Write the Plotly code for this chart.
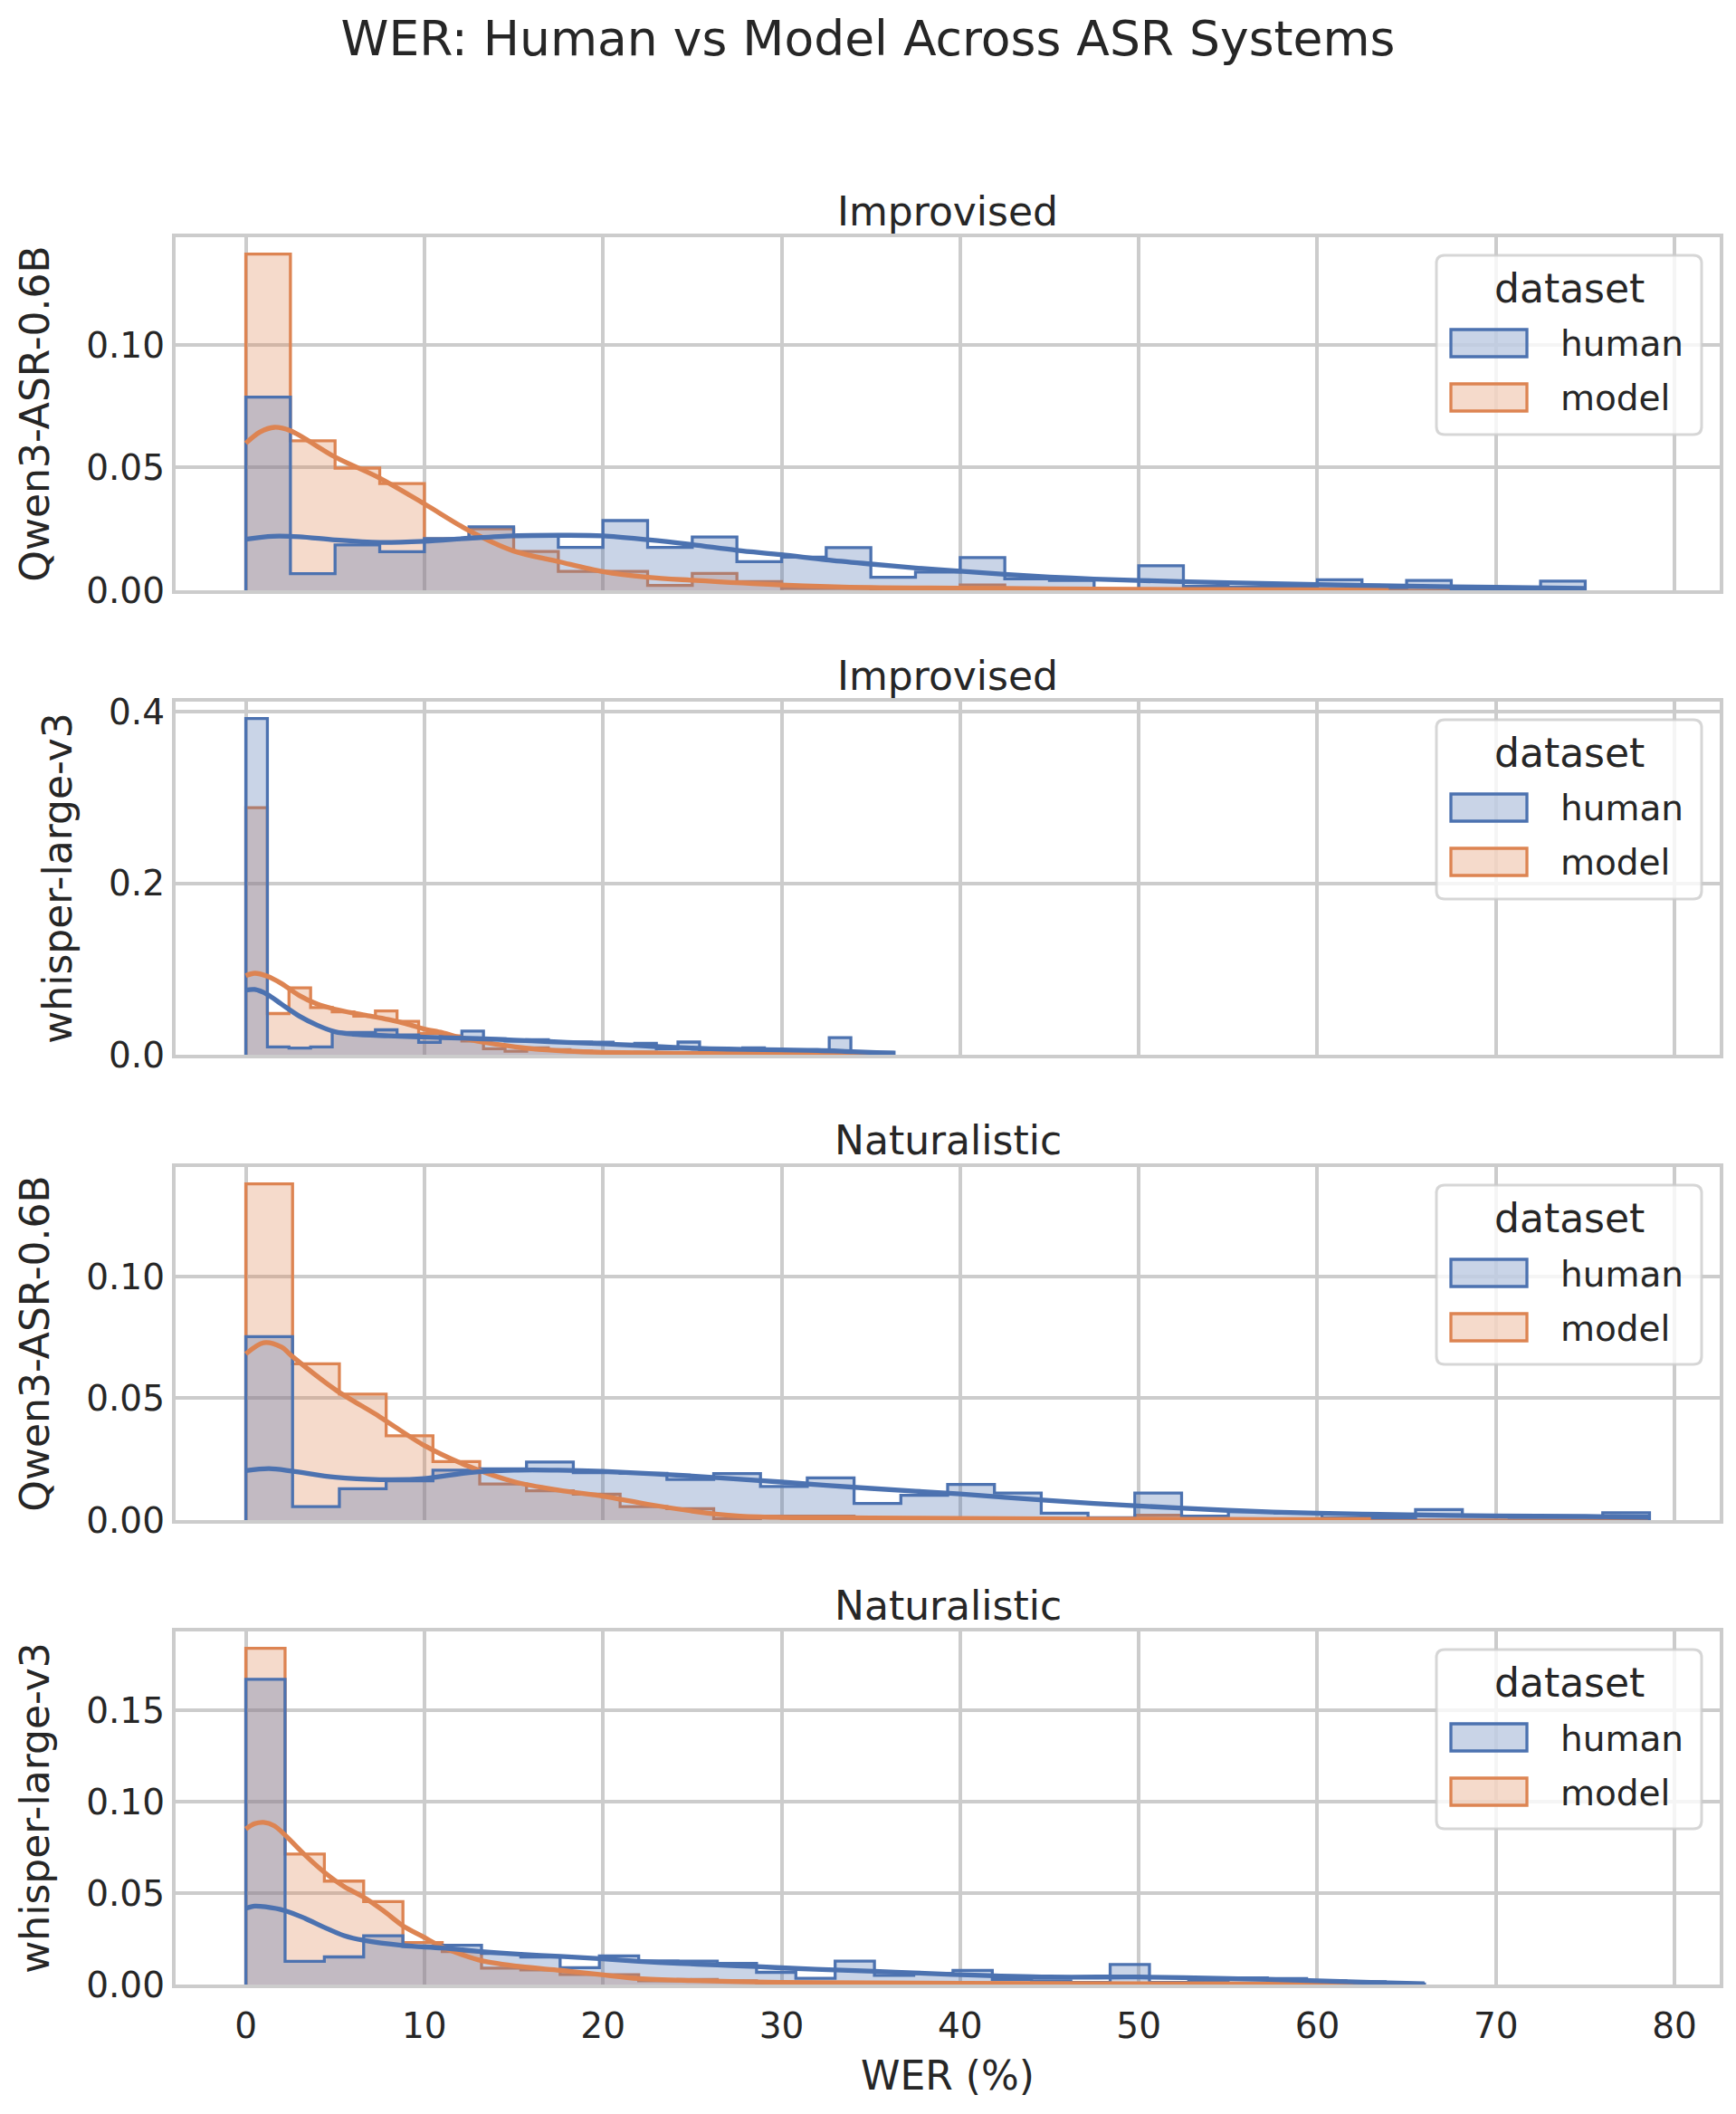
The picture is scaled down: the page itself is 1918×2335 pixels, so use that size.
import numpy as np
import plotly.graph_objects as go

# ---------------- data ----------------
suptitle = "WER: Human vs Model Across ASR Systems"
panel_titles = ["Improvised", "Improvised", "Naturalistic", "Naturalistic"]
panel_models = ["Qwen3-ASR-0.6B", "whisper-large-v3", "Qwen3-ASR-0.6B", "whisper-large-v3"]
hue_levels = ["human", "model"]
legend_title = "dataset"
x_label = "WER (%)"
n_bins = 30
wer_max = [75.0, 36.3, 78.6, 66.0]   # upper edge of the common bins in each panel

x_ticks = [0, 10, 20, 30, 40, 50, 60, 70, 80]
y_ticks = [[0, 0.05, 0.10], [0, 0.2, 0.4], [0, 0.05, 0.10], [0, 0.05, 0.10, 0.15]]
y_ticktext = [["0.00", "0.05", "0.10"], ["0.0", "0.2", "0.4"],
              ["0.00", "0.05", "0.10"], ["0.00", "0.05", "0.10", "0.15"]]

# histogram densities (30 bins per panel)
p1_human = [0.0787, 0.0068, 0.0185, 0.0157, 0.0211, 0.0259, 0.0220, 0.0175, 0.0284, 0.0175,
            0.0217, 0.0117, 0.0135, 0.0174, 0.0053, 0.0074, 0.0133, 0.0047, 0.0040, 0.0005,
            0.0100, 0.0016, 0.0012, 0.0012, 0.0043, 0.0012, 0.0040, 0.0004, 0.0004, 0.0037]
p1_model = [0.1370, 0.0609, 0.0498, 0.0435, 0.0210, 0.0250, 0.0158, 0.0077, 0.0077, 0.0020,
            0.0069, 0.0035, 0.0008, 0.0008, 0.0005, 0.0005, 0.0022, 0.0005, 0.0003, 0.0003,
            0.0005, 0.0003, 0.0, 0.0003, 0.0, 0.0003, 0.0, 0.0, 0.0, 0.0]
p2_human = [0.392, 0.0092, 0.0077, 0.0092, 0.026, 0.026, 0.029, 0.023, 0.0145, 0.021,
            0.0275, 0.0187, 0.016, 0.0176, 0.015, 0.015, 0.0145, 0.0123, 0.0134, 0.007,
            0.0148, 0.006, 0.0056, 0.008, 0.0056, 0.0056, 0.0056, 0.0200, 0.0035, 0.003]
p2_model = [0.288, 0.048, 0.078, 0.055, 0.050, 0.045, 0.051, 0.039, 0.025, 0.022,
            0.016, 0.007, 0.004, 0.008, 0.006, 0.004, 0.003, 0.002, 0.003, 0.002,
            0.002, 0.001, 0.001, 0.002, 0.001, 0.001, 0.0005, 0.001, 0.0005, 0.0]
p3_human = [0.0753, 0.0055, 0.0129, 0.0161, 0.0205, 0.0210, 0.0238, 0.0195, 0.0192, 0.0167,
            0.0191, 0.0138, 0.0173, 0.0068, 0.0102, 0.0146, 0.0111, 0.0028, 0.0010, 0.0111,
            0.0016, 0.0035, 0.0028, 0.0010, 0.0010, 0.0043, 0.0016, 0.0012, 0.0012, 0.0030]
p3_model = [0.138, 0.0641, 0.0517, 0.0346, 0.0240, 0.0148, 0.0120, 0.0106, 0.0055, 0.0047,
            0.0006, 0.0016, 0.0016, 0.0005, 0.0005, 0.0003, 0.0005, 0.0003, 0.0003, 0.0020,
            0.0003, 0.0, 0.0, 0.0, 0.0003, 0.0, 0.0, 0.0, 0.0, 0.0]
p4_human = [0.167, 0.0127, 0.0151, 0.0267, 0.0209, 0.0215, 0.0170, 0.0150, 0.0092, 0.0157,
            0.0129, 0.0128, 0.0116, 0.0067, 0.0034, 0.0128, 0.0050, 0.0060, 0.0077, 0.0028,
            0.0020, 0.0012, 0.0110, 0.0012, 0.0016, 0.0036, 0.0033, 0.0020, 0.0015, 0.0003]
p4_model = [0.184, 0.0714, 0.0566, 0.0454, 0.0230, 0.0180, 0.0090, 0.0080, 0.0055, 0.0054,
            0.0020, 0.0028, 0.0020, 0.0010, 0.0010, 0.0008, 0.0005, 0.0005, 0.0005, 0.0003,
            0.0003, 0.0003, 0.0003, 0.0, 0.0003, 0.0, 0.0003, 0.0, 0.0, 0.0]

# KDE curves
p1_human_kde_x = [0, 1.5, 3, 5, 7.5, 10, 12.5, 15, 17.5, 20, 22.5, 25, 27.5, 30, 32.5, 35, 37.5,
                  40, 42.5, 45, 47.5, 50, 55, 60, 65, 70, 75]
p1_human_kde_y = [0.0208, 0.0220, 0.0218, 0.0205, 0.0195, 0.0200, 0.0212, 0.0222, 0.0224, 0.0222,
                  0.0206, 0.0186, 0.0163, 0.0145, 0.0124, 0.0107, 0.0091, 0.0078, 0.0065, 0.0054,
                  0.0046, 0.0040, 0.0031, 0.0023, 0.0017, 0.0012, 0.0008]
p1_model_kde_x = [0, 0.8, 1.6, 2.5, 5, 7.5, 10, 12.5, 15, 17.5, 20, 22.5, 25, 30, 35, 40, 45, 50,
                  55, 60, 64]
p1_model_kde_y = [0.0599, 0.0645, 0.0664, 0.0650, 0.0543, 0.0457, 0.0352, 0.0243, 0.0160, 0.0117,
                  0.0076, 0.0053, 0.0041, 0.0022, 0.0011, 0.0009, 0.0006, 0.0004, 0.0003, 0.0002,
                  0.0001]
p2_human_kde_x = [0, 0.5, 1.2, 2, 3, 4, 5, 6, 8, 10, 12, 14, 16, 18, 20, 22, 24, 26, 28, 30, 32,
                  34, 36.3]
p2_human_kde_y = [0.0754, 0.0760, 0.0704, 0.0590, 0.0450, 0.0345, 0.0268, 0.0240, 0.0220, 0.0204,
                  0.0194, 0.0180, 0.0162, 0.0144, 0.0127, 0.0106, 0.0085, 0.0070, 0.0063, 0.0056,
                  0.0050, 0.0035, 0.0018]
p2_model_kde_x = [0, 0.5, 1.2, 2, 3, 4, 5, 6, 7, 8, 9, 10, 11, 12, 13, 14, 16, 18, 20, 24, 28,
                  32, 35]
p2_model_kde_y = [0.0922, 0.0950, 0.0915, 0.0830, 0.0690, 0.0590, 0.0530, 0.0486, 0.0450, 0.0410,
                  0.0360, 0.0300, 0.0257, 0.0200, 0.0158, 0.0123, 0.0070, 0.0042, 0.0028, 0.0018,
                  0.0014, 0.0010, 0.0007]
p3_human_kde_x = [0, 1.3, 2.6, 5, 7.5, 10, 12.5, 15, 17.5, 20, 25, 30, 35, 40, 45, 50, 55, 60,
                  65, 70, 75, 78.6]
p3_human_kde_y = [0.0203, 0.0211, 0.0201, 0.0176, 0.0166, 0.0170, 0.0195, 0.0205, 0.0205, 0.0200,
                  0.0181, 0.0156, 0.0130, 0.0107, 0.0080, 0.0058, 0.0040, 0.0028, 0.0022, 0.0017,
                  0.0015, 0.0012]
p3_model_kde_x = [0, 1, 2, 2.6, 5, 7.5, 10, 12.5, 15, 17.5, 20, 22.5, 25, 27.5, 30, 35, 40, 45,
                  50, 55, 60, 63]
p3_model_kde_y = [0.0682, 0.0728, 0.0710, 0.0672, 0.0536, 0.0424, 0.0306, 0.0220, 0.0158, 0.0123,
                  0.0098, 0.0065, 0.0037, 0.0017, 0.0011, 0.0009, 0.0007, 0.0005, 0.0004, 0.0003,
                  0.0002, 0.0002]
p4_human_kde_x = [0, 0.5, 1.1, 2.2, 3.3, 4.4, 5.5, 6.6, 8.8, 11, 13.2, 15.4, 17.6, 19.8, 22,
                  24.2, 26.4, 28.6, 30.8, 33, 35.2, 37.4, 40, 45, 50, 55, 60, 63, 66]
p4_human_kde_y = [0.0417, 0.0429, 0.0425, 0.0404, 0.0363, 0.0313, 0.0268, 0.0242, 0.0214, 0.0200,
                  0.0180, 0.0165, 0.0154, 0.0142, 0.0127, 0.0116, 0.0107, 0.0098, 0.0088, 0.0080,
                  0.0072, 0.0064, 0.0054, 0.0041, 0.0041, 0.0033, 0.0020, 0.0012, 0.0004]
p4_model_kde_x = [0, 0.5, 1, 1.6, 2.2, 3.3, 4.4, 5.5, 6.6, 7.7, 8.8, 9.9, 11, 12.1, 13.2, 15.4,
                  17.6, 19.8, 22, 25, 30, 35, 40, 50, 62]
p4_model_kde_y = [0.0851, 0.0880, 0.0887, 0.0868, 0.0818, 0.0710, 0.0614, 0.0536, 0.0478, 0.0404,
                  0.0321, 0.0263, 0.0205, 0.0164, 0.0131, 0.0098, 0.0078, 0.0055, 0.0033, 0.0022,
                  0.0012, 0.0009, 0.0007, 0.0004, 0.0002]

hist = [
    {"human": p1_human, "model": p1_model},
    {"human": p2_human, "model": p2_model},
    {"human": p3_human, "model": p3_model},
    {"human": p4_human, "model": p4_model},
]
kde = [
    {"human": (p1_human_kde_x, p1_human_kde_y), "model": (p1_model_kde_x, p1_model_kde_y)},
    {"human": (p2_human_kde_x, p2_human_kde_y), "model": (p2_model_kde_x, p2_model_kde_y)},
    {"human": (p3_human_kde_x, p3_human_kde_y), "model": (p3_model_kde_x, p3_model_kde_y)},
    {"human": (p4_human_kde_x, p4_human_kde_y), "model": (p4_model_kde_x, p4_model_kde_y)},
]

# ---------------- style / layout ----------------
W, H = 1918, 2335
plot_left, plot_right = 194, 1900
plot_top, plot_bottom = 262, 2192
panel_tops = [262, 775, 1289, 1802]
panel_h = 390
plot_w = plot_right - plot_left
plot_h = plot_bottom - plot_top

line_col = {"human": "#4c72b0", "model": "#dd8452"}
fill_col = {"human": "rgba(76,114,176,0.3)", "model": "rgba(221,132,82,0.3)"}
text_col = "#262626"
grid_col = "#cccccc"
FONT = "DejaVu Sans"
x_range = [-3.93, 82.53]


def px_x(px):
    return (px - plot_left) / plot_w


def px_y(py):
    return (plot_bottom - py) / plot_h


fig = go.Figure()

for i in range(4):
    xa = "x" if i == 0 else f"x{i+1}"
    ya = "y" if i == 0 else f"y{i+1}"
    edges = np.linspace(0, wer_max[i], n_bins + 1)
    for hue in ["model", "human"]:
        d = np.asarray(hist[i][hue], dtype=float)
        xs = np.concatenate([[0.0], edges[:-1], [edges[-1], edges[-1]]])
        ys = np.concatenate([[0.0], d, [d[-1], 0.0]])
        fig.add_trace(go.Scatter(
            x=xs, y=ys, mode="lines", xaxis=xa, yaxis=ya,
            line=dict(shape="hv", color=line_col[hue], width=3.3),
            fill="tozeroy", fillcolor=fill_col[hue],
            showlegend=False, hoverinfo="skip", name=hue))
    for hue in ["model", "human"]:
        kx, ky = kde[i][hue]
        fig.add_trace(go.Scatter(
            x=kx, y=ky, mode="lines", xaxis=xa, yaxis=ya,
            line=dict(shape="spline", smoothing=0.9, color=line_col[hue], width=5.3),
            showlegend=False, hoverinfo="skip", name=hue + " kde"))

layout = dict(
    width=W, height=H,
    margin=dict(l=plot_left, r=W - plot_right, t=plot_top, b=H - plot_bottom, autoexpand=False),
    paper_bgcolor="white", plot_bgcolor="white",
    font=dict(family=FONT, color=text_col, size=39),
    showlegend=False,
    title=dict(text=suptitle, x=0.5, xref="container", xanchor="center",
               y=1 - 42 / H, yref="container", yanchor="middle",
               font=dict(size=53.5, family=FONT, color=text_col)),
)

annotations = []
shapes = []

for i in range(4):
    top = panel_tops[i]
    dom = [(plot_bottom - top - panel_h) / plot_h, (plot_bottom - top) / plot_h]
    xkey = "xaxis" if i == 0 else f"xaxis{i+1}"
    ykey = "yaxis" if i == 0 else f"yaxis{i+1}"
    ya = "y" if i == 0 else f"y{i+1}"
    xa = "x" if i == 0 else f"x{i+1}"
    xdict = dict(domain=[0, 1], anchor=ya, range=x_range, tickvals=x_ticks,
                 showticklabels=(i == 3), showgrid=True, gridcolor=grid_col, gridwidth=3.5,
                 showline=True, mirror=True, linecolor=grid_col, linewidth=4.4,
                 zeroline=False, ticks="", tickfont=dict(size=39, family=FONT, color=text_col),
                 ticklabelstandoff=8)
    if i > 0:
        xdict["matches"] = "x"
    if i == 3:
        xdict["title"] = dict(text=x_label, font=dict(size=44, family=FONT, color=text_col),
                              standoff=19)
    layout[xkey] = xdict

    ymax = 1.05 * max(max(hist[i]["human"]), max(hist[i]["model"]))
    layout[ykey] = dict(domain=dom, anchor=xa, range=[0, ymax],
                        tickvals=y_ticks[i], ticktext=y_ticktext[i],
                        showgrid=True, gridcolor=grid_col, gridwidth=3.5,
                        showline=True, mirror=True, linecolor=grid_col, linewidth=4.4,
                        zeroline=False, ticks="",
                        tickfont=dict(size=39, family=FONT, color=text_col),
                        ticklabelstandoff=0,
                        title=dict(text=panel_models[i],
                                   font=dict(size=44, family=FONT, color=text_col),
                                   standoff=28))

    # panel title
    annotations.append(dict(text=panel_titles[i], x=0.5, xref="paper", xanchor="center",
                            y=dom[1], yref="paper", yanchor="middle", yshift=29,
                            showarrow=False, font=dict(size=44, family=FONT, color=text_col)))

    # ---- legend (drawn as shapes + text) ----
    bl, br = 1587, 1880
    bt, bb = top + 20, top + 218
    r = 9
    pts = lambda x, y: f"{px_x(x):.6f},{px_y(y):.6f}"
    path = (f"M {pts(bl + r, bt)} L {pts(br - r, bt)} Q {pts(br, bt)} {pts(br, bt + r)} "
            f"L {pts(br, bb - r)} Q {pts(br, bb)} {pts(br - r, bb)} "
            f"L {pts(bl + r, bb)} Q {pts(bl, bb)} {pts(bl, bb - r)} "
            f"L {pts(bl, bt + r)} Q {pts(bl, bt)} {pts(bl + r, bt)} Z")
    shapes.append(dict(type="path", path=path, xref="paper", yref="paper",
                       fillcolor="rgba(255,255,255,0.8)",
                       line=dict(color="rgba(204,204,204,0.8)", width=3), layer="above"))
    annotations.append(dict(text=legend_title, x=px_x((bl + br) / 2), xref="paper",
                            xanchor="center", y=px_y(bt + 36), yref="paper", yanchor="middle",
                            showarrow=False, font=dict(size=44, family=FONT, color=text_col)))
    for k, hue in enumerate(hue_levels):
        y0 = bt + 82 + 60 * k
        shapes.append(dict(type="rect", xref="paper", yref="paper",
                           x0=px_x(bl + 16), x1=px_x(bl + 100),
                           y0=px_y(y0 + 30), y1=px_y(y0),
                           fillcolor=fill_col[hue],
                           line=dict(color=line_col[hue], width=3.3), layer="above"))
        annotations.append(dict(text=hue, x=px_x(bl + 135), xref="paper", xanchor="left",
                                y=px_y(y0 + 16), yref="paper", yanchor="middle",
                                showarrow=False,
                                font=dict(size=39, family=FONT, color=text_col)))

layout["annotations"] = annotations
layout["shapes"] = shapes
fig.update_layout(**layout)

fig.write_html("out.html")
